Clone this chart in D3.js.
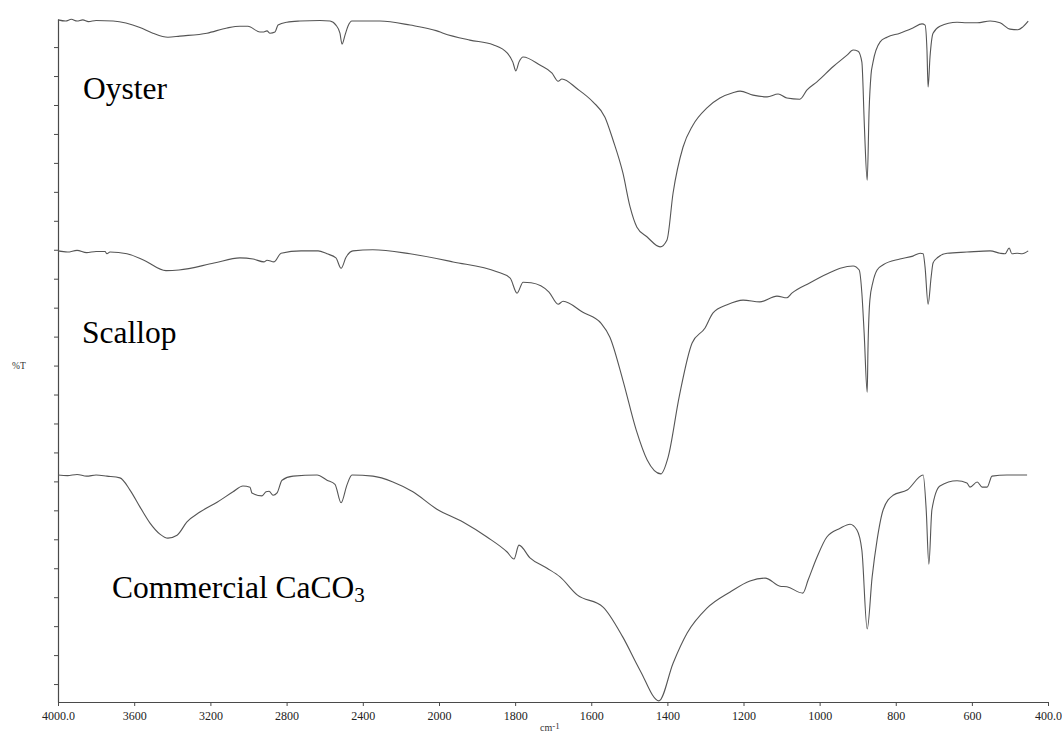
<!DOCTYPE html>
<html>
<head>
<meta charset="utf-8">
<script src="https://cdn.jsdelivr.net/npm/d3@7"></script>
<style>
  html, body { margin: 0; padding: 0; background: #fff; }
  svg { display: block; }
  text { font-family: "Liberation Serif", "Times New Roman", serif; }
</style>
</head>
<body>
<svg id="chart" width="1062" height="734"></svg>
<script>
// Wavenumber tick labels (cm-1); the axis is expanded 2x below 2000 cm-1
const wavenumberTicks = [4000, 3600, 3200, 2800, 2400, 2000, 1800, 1600, 1400, 1200, 1000, 800, 600, 400];
const transmittanceTicks = d3.range(0, 111, 5);

// Stacked FTIR spectra: [wavenumber cm-1, %T (offset units)]
const oyster = [
  [4000,114.7],[3960,114.5],[3930,114.8],[3900,114.5],[3870,114.7],[3840,114.4],[3800,114.6],[3711,114.5],
  [3570,113.4],[3502,112.4],[3423,111.7],[3360,111.9],[3218,112.4],[3113,113.3],[3045,113.6],[3003,113.6],
  [2940,112.6],[2924,112.6],[2903,112.8],[2887,112.4],[2861,112.6],[2845,113.8],[2798,114.3],[2730,114.5],
  [2625,114.6],[2572,114.5],[2541,113.8],[2520,112.4],[2509,110.5],[2493,112.1],[2478,113.6],[2457,114.5],
  [2310,114.5],[2152,113.8],[2011,112.8],[1989,112.4],[1919,111.2],[1858,110.4],[1821,109.0],[1806,107.4],
  [1798,105.9],[1790,107.4],[1779,108.3],[1735,106.9],[1703,105.5],[1687,104.1],[1677,104.5],[1637,102.8],
  [1595,100.5],[1564,97.9],[1543,94.0],[1517,88.3],[1498,82.4],[1480,78.9],[1453,77.2],[1419,75.5],
  [1401,76.7],[1385,84.8],[1359,92.7],[1333,96.5],[1296,99.5],[1262,101.2],[1228,102.1],[1209,102.4],
  [1175,101.7],[1138,101.4],[1109,101.9],[1086,101.2],[1052,101.0],[1033,102.6],[1007,104.0],[965,106.6],
  [928,108.6],[912,109.5],[899,109.3],[889,107.4],[883,97.4],[881,94.0],[875,87.0],[870,99.1],[865,105.2],
  [860,107.3],[841,110.9],[823,111.7],[789,112.4],[755,113.3],[731,114.0],[723,113.8],[718,109.5],
  [715,103.1],[710,108.3],[702,112.4],[684,113.6],[639,114.3],[613,114.2],[586,114.2],[552,114.5],
  [526,114.2],[500,113.1],[479,113.0],[466,113.5],[452,114.5]
];

const scallop = [
  [4000,74.8],[3950,74.6],[3900,74.9],[3850,74.5],[3800,74.7],[3753,74.7],[3743,74.3],[3727,74.6],
  [3638,74.3],[3549,73.2],[3433,71.4],[3365,71.5],[3181,72.7],[3045,73.6],[2976,73.4],[2919,72.9],
  [2903,73.2],[2866,72.9],[2829,74.4],[2724,74.8],[2635,74.8],[2588,74.3],[2541,73.6],[2514,71.8],
  [2488,73.7],[2452,74.8],[2347,75.0],[2152,74.3],[1963,72.9],[1848,71.2],[1813,70.1],[1795,67.5],
  [1779,69.4],[1758,69.3],[1711,67.7],[1687,65.6],[1674,66.1],[1622,64.2],[1574,62.3],[1551,59.9],
  [1517,52.5],[1482,43.9],[1453,38.7],[1417,36.3],[1398,39.2],[1369,49.6],[1335,58.9],[1301,61.5],
  [1280,64.1],[1243,65.5],[1201,66.3],[1157,66.0],[1112,67.0],[1086,66.7],[1073,67.5],[1025,69.3],
  [981,70.8],[946,71.8],[912,72.2],[896,71.5],[889,67.5],[883,60.6],[875,50.4],[873,57.7],[868,66.3],
  [860,69.4],[849,71.5],[833,72.4],[789,73.4],[755,73.9],[736,74.4],[728,74.3],[723,72.0],[715,65.6],
  [707,70.3],[702,72.7],[689,73.7],[665,74.4],[613,74.6],[552,74.8],[526,74.4],[513,74.3],[502,75.3],
  [495,74.3],[481,74.4],[468,74.3],[452,74.8]
];

const commercial = [
  [4000,36.1],[3950,36.0],[3900,36.2],[3850,35.9],[3800,36.1],[3743,35.9],[3675,35.6],[3622,33.5],
  [3570,30.6],[3517,27.8],[3465,25.9],[3423,25.2],[3375,25.7],[3323,28.0],[3255,29.7],[3165,31.4],
  [3081,33.2],[3029,34.2],[2992,34.0],[2982,33.0],[2929,32.5],[2908,33.2],[2892,33.3],[2871,32.6],
  [2850,33.0],[2824,35.2],[2766,35.9],[2640,36.1],[2588,35.2],[2546,34.5],[2514,31.3],[2483,34.4],
  [2457,36.1],[2347,35.9],[2242,34.9],[2137,33.2],[2011,30.2],[1937,28.0],[1874,25.4],[1821,22.8],
  [1803,21.6],[1790,24.0],[1761,21.8],[1716,20.0],[1682,18.5],[1637,15.4],[1569,13.3],[1517,8.1],
  [1472,2.4],[1422,-2.9],[1385,3.6],[1348,8.8],[1296,13.1],[1235,15.9],[1183,17.8],[1143,18.3],
  [1104,16.9],[1086,16.8],[1044,15.7],[1030,18.0],[1007,21.9],[981,25.4],[946,26.9],[920,27.6],
  [902,26.6],[889,23.1],[875,9.5],[862,18.5],[849,24.9],[833,30.1],[807,32.6],[770,33.5],[728,36.1],
  [720,30.1],[713,20.7],[705,30.1],[684,34.2],[639,35.1],[613,34.7],[605,34.0],[586,34.9],[573,34.0],
  [560,34.0],[547,35.9],[508,36.1],[455,36.1]
];

const seriesNames = ["Oyster", "Scallop", "Commercial CaCO"];

const svg = d3.select("#chart");
const plotLeft = 58, plotRight = 1048, plotTop = 19, plotBottom = 702;

// Piecewise wavenumber scale: 4000-2000 compressed, 2000-400 expanded
const x = d3.scaleLinear()
  .domain([4000, 2000, 400])
  .range([plotLeft, plotLeft + (plotRight - plotLeft) * 381 / 990, plotRight]);

const y = d3.scaleLinear()
  .domain([-3.1, 114.85])
  .range([plotBottom, plotTop]);

const axisColor = "#4a4a4a";

// Bottom axis
const xAxis = d3.axisBottom(x)
  .tickValues(wavenumberTicks)
  .tickSizeInner(4)
  .tickSizeOuter(0)
  .tickFormat(d => (d === 4000 || d === 400) ? d.toFixed(1) : String(d));

const gx = svg.append("g")
  .attr("transform", `translate(0,${plotBottom})`)
  .call(xAxis);
gx.select(".domain").attr("stroke", axisColor).attr("stroke-width", 1.2);
gx.selectAll(".tick line").attr("stroke", axisColor);
gx.selectAll(".tick text")
  .attr("fill", "#222")
  .attr("font-size", 12)
  .attr("dy", "0.95em");

// Left axis (unlabelled ticks)
const yAxis = d3.axisLeft(y)
  .tickValues(transmittanceTicks)
  .tickSizeInner(4)
  .tickSizeOuter(0)
  .tickFormat("");

const gy = svg.append("g")
  .attr("transform", `translate(${plotLeft},0)`)
  .call(yAxis);
gy.select(".domain").attr("stroke", axisColor).attr("stroke-width", 1.2);
gy.selectAll(".tick line").attr("stroke", axisColor);

// Axis titles
svg.append("text")
  .attr("x", 12).attr("y", 369)
  .attr("font-size", 9.5)
  .attr("fill", "#333")
  .text("%T");

const unit = svg.append("text")
  .attr("x", 540).attr("y", 731)
  .attr("font-size", 10)
  .attr("fill", "#333");
unit.append("tspan").text("cm");
unit.append("tspan").attr("font-size", 9).attr("dy", -2).text("-1");

// Spectra
const line = d3.line()
  .curve(d3.curveMonotoneX)
  .x(d => x(d[0]))
  .y(d => y(d[1]));

[oyster, scallop, commercial].forEach(s => {
  svg.append("path")
    .datum(s)
    .attr("fill", "none")
    .attr("stroke", "#555")
    .attr("stroke-width", 1.1)
    .attr("stroke-linejoin", "round")
    .attr("d", line);
});

// Series labels
const labelSize = 31.5;
svg.append("text")
  .attr("x", 83).attr("y", 99)
  .attr("font-size", labelSize).attr("fill", "#000")
  .text(seriesNames[0]);

svg.append("text")
  .attr("x", 82).attr("y", 343)
  .attr("font-size", labelSize).attr("fill", "#000")
  .text(seriesNames[1]);

const comm = svg.append("text")
  .attr("x", 112).attr("y", 598)
  .attr("font-size", labelSize).attr("fill", "#000");
comm.append("tspan").text(seriesNames[2]);
comm.append("tspan").attr("font-size", 21).attr("dy", 4).text("3");
</script>
</body>
</html>
